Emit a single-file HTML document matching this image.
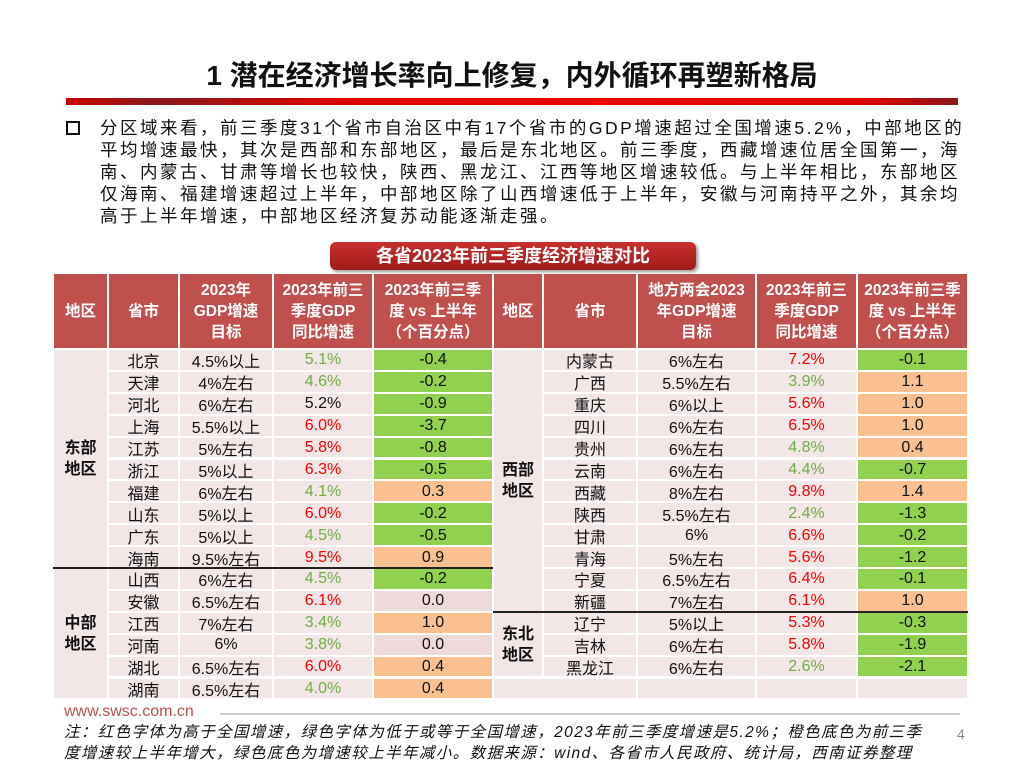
<!DOCTYPE html>
<html><head><meta charset="utf-8">
<style>
body{margin:0;width:1024px;height:768px;background:#fff;position:relative;overflow:hidden;font-family:"Liberation Sans","Noto Sans CJK SC",sans-serif;}
.a{position:absolute;}
.c{position:absolute;box-sizing:border-box;display:flex;align-items:center;justify-content:center;text-align:center;font-size:16px;color:#111;padding-top:1px;}
.h{background:#c0504d;color:#fff;font-weight:bold;line-height:21px;font-size:15.5px;padding-top:0;}
.p{line-height:22px;font-size:17.5px;letter-spacing:2.5px;color:#111;white-space:nowrap;}
</style></head><body>
<div class="a" style="left:0;width:1024px;top:54px;text-align:center;font-size:28px;font-weight:bold;color:#111;">1 潜在经济增长率向上修复，内外循环再塑新格局</div>
<div class="a" style="left:66px;top:98px;width:892px;height:7px;background:linear-gradient(90deg,#c00 0%,#8b1a1a 10%,#d00 30%,#e00 60%,#d00 90%,#8b1a1a 100%);"></div>
<div class="a" style="left:66px;top:121px;width:10px;height:10px;border:2px solid #111;"></div>
<div class="a p" style="left:100px;top:117px;">分区域来看，前三季度31个省市自治区中有17个省市的GDP增速超过全国增速5.2%，中部地区的<br>平均增速最快，其次是西部和东部地区，最后是东北地区。前三季度，西藏增速位居全国第一，海<br>南、内蒙古、甘肃等增长也较快，陕西、黑龙江、江西等地区增速较低。与上半年相比，东部地区<br>仅海南、福建增速超过上半年，中部地区除了山西增速低于上半年，安徽与河南持平之外，其余均<br>高于上半年增速，中部地区经济复苏动能逐渐走强。</div>
<div class="a" style="left:330px;top:242px;width:366px;height:28px;border-radius:6px;background:linear-gradient(180deg,#c9302c,#9e1b1b);box-shadow:2px 2px 3px #999;color:#fff;font-weight:bold;font-size:18px;line-height:28px;text-align:center;">各省2023年前三季度经济增速对比</div>
<div id="tbl"></div>
<div class="a" style="left:64px;top:703px;font-size:16px;color:#c0504d;">www.swsc.com.cn</div>
<div class="a" style="left:220px;top:713px;width:740px;height:2px;background:#ccc;"></div>
<div class="a" style="left:64px;top:722px;font-size:15.5px;letter-spacing:1.4px;font-style:italic;line-height:21px;color:#111;white-space:nowrap;">注：红色字体为高于全国增速，绿色字体为低于或等于全国增速，2023年前三季度增速是5.2%；橙色底色为前三季<br>度增速较上半年增大，绿色底色为增速较上半年减小。数据来源：wind、各省市人民政府、统计局，西南证券整理</div>
<div class="a" style="left:957px;top:726px;font-size:14px;color:#888;">4</div>
<script>
const leftProv=["北京","天津","河北","上海","江苏","浙江","福建","山东","广东","海南","山西","安徽","江西","河南","湖北","湖南"];
const leftTarget=["4.5%以上","4%左右","6%左右","5.5%以上","5%左右","5%以上","6%左右","5%以上","5%以上","9.5%左右","6%左右","6.5%左右","7%左右","6%","6.5%左右","6.5%左右"];
const leftGrowth=[5.1,4.6,5.2,6.0,5.8,6.3,4.1,6.0,4.5,9.5,4.5,6.1,3.4,3.8,6.0,4.0];
const leftDiff=[-0.4,-0.2,-0.9,-3.7,-0.8,-0.5,0.3,-0.2,-0.5,0.9,-0.2,0.0,1.0,0.0,0.4,0.4];
const rightProv=["内蒙古","广西","重庆","四川","贵州","云南","西藏","陕西","甘肃","青海","宁夏","新疆","辽宁","吉林","黑龙江"];
const rightTarget=["6%左右","5.5%左右","6%以上","6%左右","6%左右","6%左右","8%左右","5.5%左右","6%","5%左右","6.5%左右","7%左右","5%以上","6%左右","6%左右"];
const rightGrowth=[7.2,3.9,5.6,6.5,4.8,4.4,9.8,2.4,6.6,5.6,6.4,6.1,5.3,5.8,2.6];
const rightDiff=[-0.1,1.1,1.0,1.0,0.4,-0.7,1.4,-1.3,-0.2,-1.2,-0.1,1.0,-0.3,-1.9,-2.1];
const national=5.2;
const T=document.getElementById('tbl');
const Y0=349,RH=21.9,PINK='#f2e6e6';
function cell(x1,x2,y1,y2,txt,bg,col,name){
  const d=document.createElement('div');d.className='c';
  d.style.left=(x1+1)+'px';d.style.width=(x2-x1-2)+'px';d.style.top=(y1+1)+'px';d.style.height=(y2-y1-2)+'px';
  d.style.background=bg;d.style.color=col;d.innerHTML=txt;
  
  
  T.appendChild(d);return d;
}
function header(xs,texts,side){
  texts.forEach((t,i)=>{const d=cell(xs[i],xs[i+1],273,349,t,'#c0504d','#fff',side+'-header-cell');d.classList.add('h');});
}
const LX=[53,108,179,273,373,493],RX=[493,543,637,756,857,968];
header(LX,["地区","省市","2023年<br>GDP增速<br>目标","2023年前三<br>季度GDP<br>同比增速","2023年前三季<br>度 vs 上半年<br>（个百分点）"],'left');
header(RX,["地区","省市","地方两会2023<br>年GDP增速<br>目标","2023年前三<br>季度GDP<br>同比增速","2023年前三季<br>度 vs 上半年<br>（个百分点）"],'right');
function fmt(v){return v.toFixed(1);}
function rows(xs,prov,target,growth,diff,side){
  prov.forEach((p,i)=>{
    const y1=Y0+i*RH,y2=y1+RH;
    cell(xs[1],xs[2],y1,y2,p,PINK,'#111',side+'-province');
    cell(xs[2],xs[3],y1,y2,target[i],PINK,'#111',side+'-target');
    const gc=growth[i]>national?'#ff0000':(growth[i]<national?'#70ad47':'#111');
    cell(xs[3],xs[4],y1,y2,fmt(growth[i])+'%',PINK,gc,side+'-growth');
    const db=diff[i]<0?'#92d050':(diff[i]>0?'#fac090':'#eedada');
    cell(xs[4],xs[5],y1,y2,fmt(diff[i]),db,'#111',side+'-diff');
  });
}
rows(LX,leftProv,leftTarget,leftGrowth,leftDiff,'left');
rows(RX,rightProv,rightTarget,rightGrowth,rightDiff,'right');
function region(xs,r1,r2,txt){
  const d=cell(xs[0],xs[1],Y0+r1*RH,Y0+r2*RH,txt,PINK,'#111','region-label');d.style.fontWeight='bold';d.style.lineHeight='21px';
}
region(LX,0,10,'东部<br>地区');region(LX,10,16,'中部<br>地区');
region(RX,0,12,'西部<br>地区');region(RX,12,15,'东北<br>地区');
const ey1=Y0+15*RH,ey2=ey1+RH;
cell(RX[0],RX[2],ey1,ey2,'',PINK,'#111','empty-cell');
cell(RX[2],RX[3],ey1,ey2,'',PINK,'#111','empty-cell');
cell(RX[3],RX[4],ey1,ey2,'',PINK,'#111','empty-cell');
cell(RX[4],RX[5],ey1,ey2,'',PINK,'#111','empty-cell');
function sep(x1,x2,y){const d=document.createElement('div');d.className='a';d.style.left=x1+'px';d.style.width=(x2-x1)+'px';d.style.top=(y-1)+'px';d.style.height='2px';d.style.background='#222';


T.appendChild(d);}
sep(53,493,Y0+10*RH);sep(493,968,Y0+12*RH);
</script>
</body></html>
